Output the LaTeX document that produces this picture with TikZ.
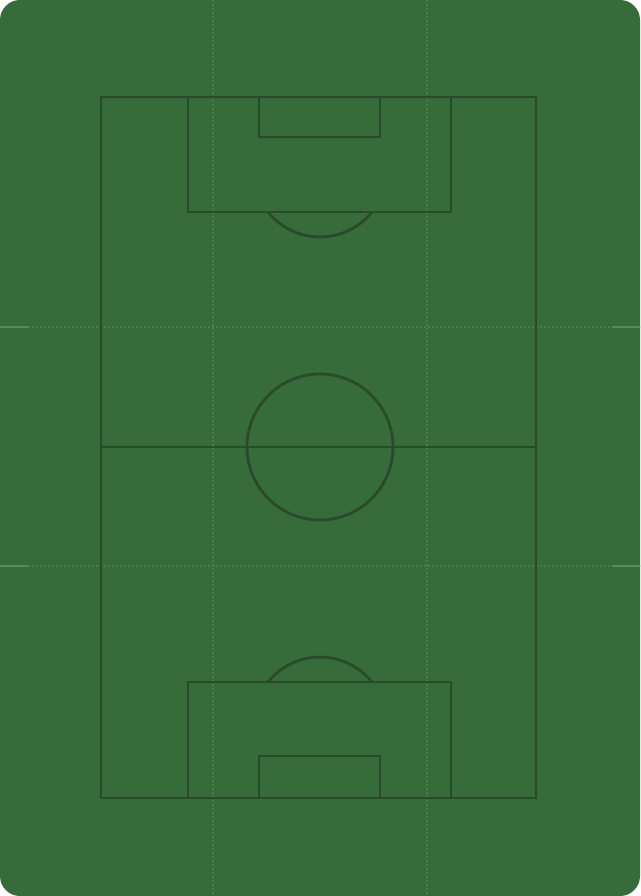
\documentclass[tikz,border=0pt]{standalone}
\usetikzlibrary{calc}
\definecolor{grass}{HTML}{386B3A}
\definecolor{pline}{HTML}{2A4B2B}
\definecolor{gline}{HTML}{4A7D4C}
\definecolor{gend}{HTML}{5A895B}
\tikzset{
  pitchline/.style={draw=pline, line width=2.8pt},
  guide/.style={draw=gline, line width=1.8pt, dash pattern=on 2pt off 2pt},
  guideend/.style={draw=gend, line width=2.2pt},
}
\begin{document}
\begin{tikzpicture}[x=1pt,y=-1pt]
\useasboundingbox (0,0) rectangle (640,896);
\fill[white] (0,0) rectangle (640,896);
\fill[grass, rounded corners=20pt] (0,0) rectangle (640,896);
% guide lines
\draw[guide] (213,0) -- (213,896);
\draw[guide] (427,0) -- (427,896);
\draw[guide] (0,327) -- (640,327);
\draw[guide] (0,566) -- (640,566);
\draw[guideend] (0,327) -- (28,327);
\draw[guideend] (612,327) -- (640,327);
\draw[guideend] (0,566) -- (28,566);
\draw[guideend] (612,566) -- (640,566);
% pitch
\draw[pitchline] (101,97) rectangle (536,798);
\draw[pitchline] (101,447) -- (536,447);
\draw[pitchline] (320,447) circle (73);
% top
\draw[pitchline] (188,97) rectangle (451,212);
\draw[pitchline] (259,97) rectangle (380,137);
\draw[pitchline] (268,212) arc[start angle=-141.3, end angle=-38.7, x radius=66.6, y radius=-66.6];
% bottom
\draw[pitchline] (188,682) rectangle (451,798);
\draw[pitchline] (259,756) rectangle (380,798);
\draw[pitchline] (268,682) arc[start angle=141.3, end angle=38.7, x radius=66.6, y radius=-66.6];
\end{tikzpicture}
\end{document}
